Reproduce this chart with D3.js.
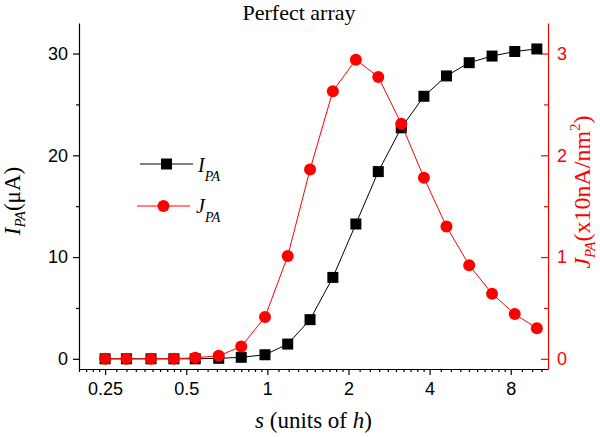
<!DOCTYPE html>
<html><head><meta charset="utf-8">
<script src="https://cdn.jsdelivr.net/npm/d3@7"></script>
<style>body{margin:0;background:#fff}</style>
</head><body>
<svg id="c" width="600" height="437"></svg>
<script>
// data
const sValues  = [0.25, 0.30, 0.37, 0.45, 0.54, 0.66, 0.80, 0.98, 1.19, 1.44, 1.75, 2.13, 2.58, 3.14, 3.81, 4.62, 5.61, 6.82, 8.28, 10.0];
const currentI = [0, 0, 0, 0, 0, 0.05, 0.15, 0.4, 1.45, 3.85, 8.0, 13.25, 18.4, 22.7, 25.8, 27.8, 29.1, 29.75, 30.2, 30.45];
const densityJ = [0, 0, 0, 0, 0.01, 0.03, 0.12, 0.41, 1.01, 1.86, 2.63, 2.94, 2.77, 2.31, 1.78, 1.30, 0.92, 0.64, 0.44, 0.30];
const xTickValues = [0.25, 0.5, 1, 2, 4, 8];
const xTickLabels = ["0.25", "0.5", "1", "2", "4", "8"];
const leftTickValues = [0, 10, 20, 30];
const leftMinorValues = [5, 15, 25];
const rightTickValues = [0, 1, 2, 3];
const rightMinorValues = [0.5, 1.5, 2.5];
const titleText = "Perfect array";

const svg = d3.select("#c");
const L = 79, R = 548, T = 23, B = 369;
const x = d3.scaleLog().domain([0.2, 11]).range([L, R]);
const yL = d3.scaleLinear().domain([-1, 33]).range([B, T]);
const yR = d3.scaleLinear().domain([-0.1, 3.3]).range([B, T]);

// minor x ticks: 9 linear subdivisions between successive majors
const xMinor = [];
const allMaj = [0.125].concat(xTickValues).concat([16]);
for (let i = 0; i < allMaj.length - 1; i++) {
  const a = allMaj[i], b = allMaj[i + 1];
  for (let k = 1; k < 10; k++) {
    const v = a + (b - a) * k / 10;
    if (v >= 0.2 - 1e-9 && v <= 11) xMinor.push(v);
  }
}

const sans = "'Liberation Sans', Arial, sans-serif";
const serif = "'Liberation Serif', 'Times New Roman', serif";

// bottom axis
const gx = svg.append("g").attr("transform", `translate(0,${B})`)
  .call(d3.axisBottom(x).tickValues(xTickValues).tickFormat((d, i) => xTickLabels[i])
    .tickSize(6).tickSizeOuter(0).tickPadding(7));
const gxm = svg.append("g").attr("transform", `translate(0,${B})`)
  .call(d3.axisBottom(x).tickValues(xMinor).tickFormat("").tickSize(3).tickSizeOuter(0));
gxm.select(".domain").remove();

// left axis
const gl = svg.append("g").attr("transform", `translate(${L},0)`)
  .call(d3.axisLeft(yL).tickValues(leftTickValues).tickFormat(d3.format("d")).tickSize(6).tickSizeOuter(0).tickPadding(5));
const glm = svg.append("g").attr("transform", `translate(${L},0)`)
  .call(d3.axisLeft(yL).tickValues(leftMinorValues).tickFormat("").tickSize(3).tickSizeOuter(0));
glm.select(".domain").remove();

// right axis (red, ticks inward)
const gr = svg.append("g").attr("transform", `translate(${R},0)`)
  .call(d3.axisRight(yR).tickValues(rightTickValues).tickFormat(d3.format("d")).tickSize(-7).tickSizeOuter(0).tickPadding(9));
const grm = svg.append("g").attr("transform", `translate(${R},0)`)
  .call(d3.axisRight(yR).tickValues(rightMinorValues).tickFormat("").tickSize(-4).tickSizeOuter(0));
grm.select(".domain").remove();

[gx, gxm, gl, glm].forEach(g => {
  g.selectAll("path,line").attr("stroke", "#000").attr("stroke-width", 1.2);
  g.selectAll("text").attr("fill", "#000").style("font-family", sans).style("font-size", "18px");
});
[gr, grm].forEach(g => {
  g.selectAll("path,line").attr("stroke", "#ff0000").attr("stroke-width", 1.2);
  g.selectAll("text").attr("fill", "#ff0000").style("font-family", sans).style("font-size", "18px");
});

// lines and markers
const lineI = d3.line().x((d, i) => x(sValues[i])).y(d => yL(d));
const lineJ = d3.line().x((d, i) => x(sValues[i])).y(d => yR(d));
svg.append("path").attr("d", lineI(currentI)).attr("fill", "none").attr("stroke", "#000").attr("stroke-width", 1);
const sq = 11;
svg.append("g").selectAll("rect").data(currentI).join("rect")
  .attr("x", (d, i) => x(sValues[i]) - sq / 2).attr("y", d => yL(d) - sq / 2)
  .attr("width", sq).attr("height", sq).attr("fill", "#000");
svg.append("path").attr("d", lineJ(densityJ)).attr("fill", "none").attr("stroke", "#ff0000").attr("stroke-width", 1);
svg.append("g").selectAll("circle").data(densityJ).join("circle")
  .attr("cx", (d, i) => x(sValues[i])).attr("cy", d => yR(d)).attr("r", 6).attr("fill", "#ff0000");

// title
svg.append("text").attr("x", 299).attr("y", 20).attr("text-anchor", "middle")
  .style("font-family", serif).style("font-size", "22px").text(titleText);

// x title
const xt = svg.append("text").attr("x", (L + R) / 2).attr("y", 428).attr("text-anchor", "middle")
  .style("font-family", serif).style("font-size", "23px");
xt.append("tspan").style("font-style", "italic").text("s");
xt.append("tspan").text(" (units of ");
xt.append("tspan").style("font-style", "italic").text("h");
xt.append("tspan").text(")");

// left y title
const yt = svg.append("text").attr("transform", `translate(20,201) rotate(-90)`)
  .attr("text-anchor", "middle").style("font-family", serif).style("font-size", "23px");
yt.append("tspan").style("font-style", "italic").text("I");
yt.append("tspan").style("font-style", "italic").style("font-size", "15px").attr("dy", 5).text("PA");
yt.append("tspan").attr("dy", -5).text("(\u03BCA)");

// right y title
const rt = svg.append("text").attr("transform", `translate(590,192) rotate(-90)`)
  .attr("text-anchor", "middle").attr("fill", "#ff0000").style("font-family", serif).style("font-size", "24px");
rt.append("tspan").style("font-style", "italic").text("J");
rt.append("tspan").style("font-style", "italic").style("font-size", "15px").attr("dy", 5).text("PA");
rt.append("tspan").attr("dy", -5).text("(x10nA/nm");
rt.append("tspan").style("font-size", "15px").attr("dy", -10).text("2");
rt.append("tspan").attr("dy", 10).text(")");

// legend
const lg = svg.append("g");
lg.append("line").attr("x1", 140).attr("x2", 193).attr("y1", 164).attr("y2", 164).attr("stroke", "#000").attr("stroke-width", 1);
lg.append("rect").attr("x", 166.5 - sq / 2).attr("y", 164 - sq / 2).attr("width", sq).attr("height", sq).attr("fill", "#000");
const l1 = lg.append("text").attr("x", 198).attr("y", 172).style("font-family", serif).style("font-size", "20px");
l1.append("tspan").style("font-style", "italic").text("I");
l1.append("tspan").style("font-style", "italic").style("font-size", "14px").attr("dy", 9).text("PA");
lg.append("line").attr("x1", 137).attr("x2", 190).attr("y1", 206).attr("y2", 206).attr("stroke", "#ff0000").attr("stroke-width", 1);
lg.append("circle").attr("cx", 163.5).attr("cy", 206).attr("r", 6).attr("fill", "#ff0000");
const l2 = lg.append("text").attr("x", 196).attr("y", 213).style("font-family", serif).style("font-size", "20px");
l2.append("tspan").style("font-style", "italic").text("J");
l2.append("tspan").style("font-style", "italic").style("font-size", "14px").attr("dy", 9).text("PA");
</script>
</body></html>
